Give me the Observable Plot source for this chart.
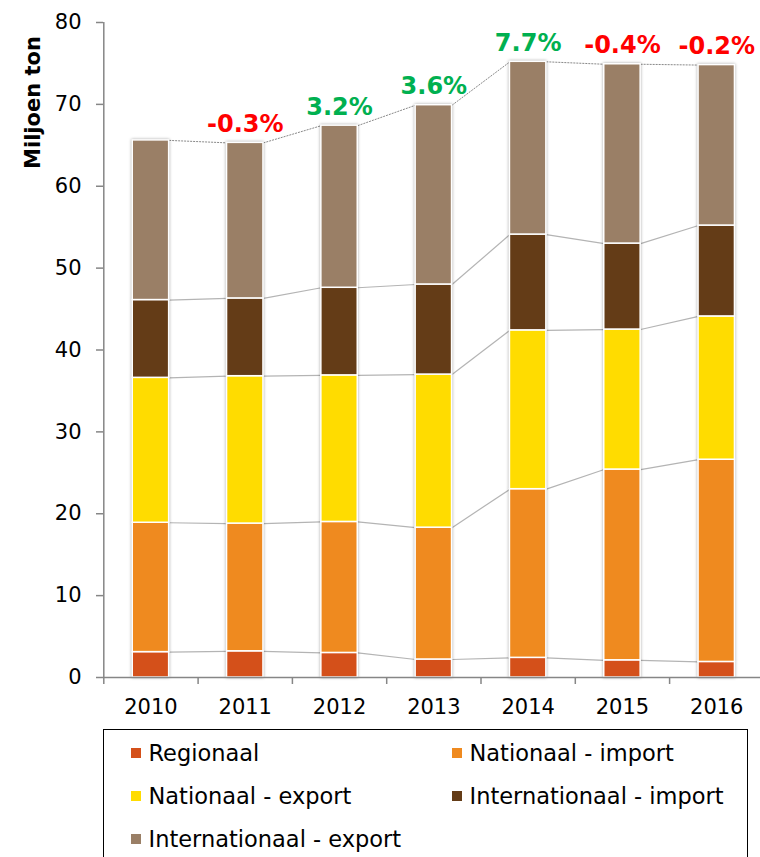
<!DOCTYPE html>
<html>
<head>
<meta charset="utf-8">
<script src="https://cdn.jsdelivr.net/npm/d3@7"></script>
<script src="https://cdn.jsdelivr.net/npm/@observablehq/plot@0.6"></script>
<style>
  html, body { margin: 0; padding: 0; background: #fff; overflow: hidden; }
  #chart svg { display: block; }
  #chart g[aria-label="rect"] { filter: drop-shadow(0 0 1.5px rgba(0,0,0,0.35)); }
  #legend {
    position: absolute; left: 103px; top: 729px; width: 645px; height: 150px;
    border: 1.5px solid #000; box-sizing: border-box;
    font-family: "DejaVu Sans", sans-serif; font-size: 22.5px; color: #000;
    display: grid; grid-template-columns: 321px 1fr; grid-auto-rows: 43px; padding-top: 1px;
  }
  #legend .item { display: flex; align-items: center; }
  #legend .sw { width: 10px; height: 10px; margin-left: 27px; margin-right: 7.5px; flex: none; }
</style>
</head>
<body>
<div id="chart"></div>
<div id="legend"></div>
<script>
const years = ["2010", "2011", "2012", "2013", "2014", "2015", "2016"];
const seriesNames = ["Regionaal", "Nationaal - import", "Nationaal - export", "Internationaal - import", "Internationaal - export"];
const regionaal            = [3.1, 3.2, 3.0, 2.2, 2.4, 2.1, 1.9];
const nationaalImport      = [15.8, 15.6, 16.0, 16.1, 20.6, 23.3, 24.7];
const nationaalExport      = [17.7, 18.0, 17.9, 18.7, 19.4, 17.1, 17.5];
const internationaalImport = [9.5, 9.5, 10.7, 11.0, 11.7, 10.5, 11.1];
const internationaalExport = [19.5, 19.0, 19.8, 21.9, 21.1, 21.9, 19.6];
const changeLabels = ["", "-0.3%", "3.2%", "3.6%", "7.7%", "-0.4%", "-0.2%"];
const colors = ["#D4501A", "#EF8A1F", "#FFDC00", "#643C17", "#9A7F66"];
const yTicks = [0, 10, 20, 30, 40, 50, 60, 70, 80];

const seriesValues = [regionaal, nationaalImport, nationaalExport, internationaalImport, internationaalExport];
const half = 0.193;

// build stacked table
const rows = [];
const cum = seriesValues.map(() => []);
years.forEach((y, i) => {
  let base = 0;
  seriesValues.forEach((vals, s) => {
    const top = base + vals[i];
    rows.push({i, year: y, series: seriesNames[s], y1: base, y2: top});
    cum[s][i] = top;
    base = top;
  });
});
const links = [];
seriesValues.forEach((vals, s) => {
  for (let i = 0; i < years.length - 1; i++) {
    links.push({s, i, y1: cum[s][i], y2: cum[s][i + 1]});
  }
});
const totals = years.map((y, i) => ({i, total: cum[seriesNames.length - 1][i], label: changeLabels[i]}));
const boundaries = years.map((_, i) => i - 0.5).concat([years.length - 0.5]);

const chart = Plot.plot({
  width: 760,
  height: 725,
  marginTop: 22,
  marginBottom: 48,
  marginLeft: 103,
  marginRight: 0,
  style: {fontFamily: "DejaVu Sans, sans-serif", fontSize: "21px", background: "white", overflow: "visible"},
  x: {domain: [-0.5, years.length - 0.5], range: [103.3, 763.4]},
  y: {domain: [0, 80], range: [677, 22]},
  color: {domain: seriesNames, range: colors},
  marks: [
    Plot.link(links.filter(d => d.s < seriesNames.length - 1), {
      x1: d => d.i + half, x2: d => d.i + 1 - half, y1: "y1", y2: "y2",
      stroke: "#b4b4b4", strokeWidth: 1.2
    }),
    Plot.link(links.filter(d => d.s === seriesNames.length - 1), {
      x1: d => d.i + half, x2: d => d.i + 1 - half, y1: "y1", y2: "y2",
      stroke: "#6a6a6a", strokeWidth: 0.8, strokeDasharray: "2,1"
    }),
    Plot.rect(rows, {
      x1: d => d.i - half, x2: d => d.i + half, y1: "y1", y2: "y2",
      fill: "series", stroke: "white", strokeWidth: 1.5
    }),
    Plot.ruleY([0], {stroke: "#868686", strokeWidth: 1.5}),
    Plot.ruleX([-0.5], {stroke: "#868686", strokeWidth: 1.5}),
    Plot.axisY({ticks: yTicks, tickSize: 7, tickPadding: 15, stroke: "#868686", strokeWidth: 1.5, fill: "black", fontSize: 21, label: null}),
    Plot.axisX({ticks: boundaries, tickSize: 7, tickFormat: () => "", stroke: "#868686", strokeWidth: 1.5, label: null}),
    Plot.axisX({ticks: years.map((_, i) => i), tickSize: 0, tickPadding: 22, tickFormat: i => years[i], fill: "black", fontSize: 21, label: null}),
    Plot.text(totals.filter(d => d.label), {
      x: "i", y: "total", text: "label", dy: -11, lineAnchor: "bottom",
      fill: d => d.label.startsWith("-") ? "#FF0000" : "#00B050",
      fontWeight: "bold", fontSize: 24
    }),
    Plot.text(["Miljoen ton"], {
      text: d => d, frameAnchor: "top-left", rotate: -90, dx: -70, dy: 80,
      textAnchor: "middle", lineAnchor: "middle",
      fontWeight: "bold", fontSize: 21, fill: "black"
    })
  ]
});
document.getElementById("chart").append(chart);

const legend = document.getElementById("legend");
seriesNames.forEach((name, s) => {
  const item = document.createElement("div");
  item.className = "item";
  const sw = document.createElement("span");
  sw.className = "sw";
  sw.style.background = colors[s];
  const t = document.createElement("span");
  t.textContent = name;
  item.append(sw, t);
  legend.append(item);
});
</script>
</body>
</html>
